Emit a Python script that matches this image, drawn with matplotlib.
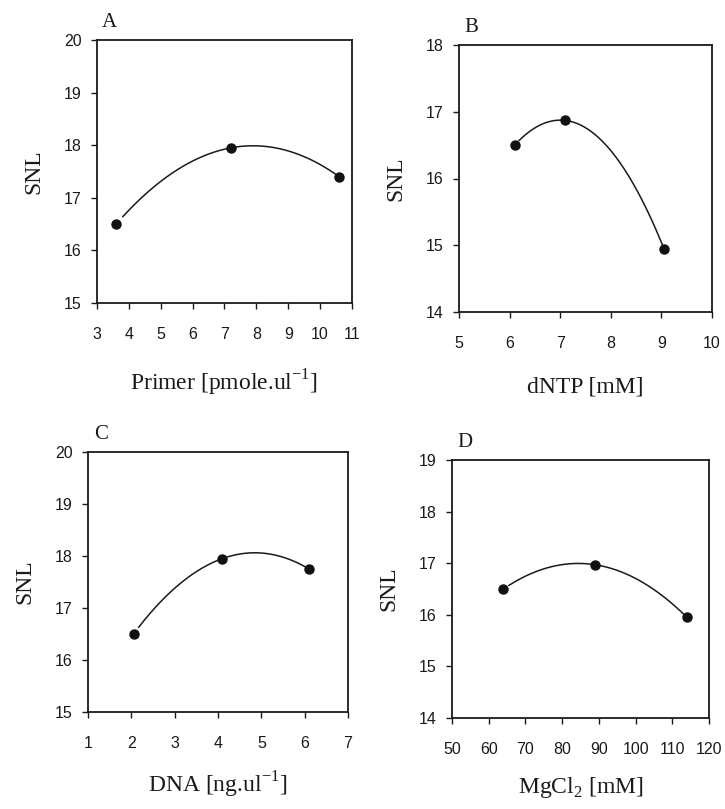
import numpy as np
import matplotlib
matplotlib.use("Agg")
import matplotlib.pyplot as plt

# Data
panel_labels = ["A", "B", "C", "D"]
x_labels = ["Primer [pmole.ul$^{\\mathregular{-1}}$]", "dNTP [mM]",
            "DNA [ng.ul$^{\\mathregular{-1}}$]", "MgCl$_{\\mathregular{2}}$ [mM]"]
y_labels = ["SNL", "SNL", "SNL", "SNL"]

xA = [3.6, 7.2, 10.6]
yA = [16.5, 17.95, 17.4]
xB = [6.1, 7.1, 9.05]
yB = [16.5, 16.87, 14.95]
xC = [2.05, 4.1, 6.1]
yC = [16.5, 17.95, 17.75]
xD = [64, 89, 114]
yD = [16.5, 16.97, 15.95]

xticksA = [3, 4, 5, 6, 7, 8, 9, 10, 11]
yticksA = [15, 16, 17, 18, 19, 20]
xticksB = [5, 6, 7, 8, 9, 10]
yticksB = [14, 15, 16, 17, 18]
xticksC = [1, 2, 3, 4, 5, 6, 7]
yticksC = [15, 16, 17, 18, 19, 20]
xticksD = [50, 60, 70, 80, 90, 100, 110, 120]
yticksD = [14, 15, 16, 17, 18, 19]

datasets = [(xA, yA, xticksA, yticksA), (xB, yB, xticksB, yticksB),
            (xC, yC, xticksC, yticksC), (xD, yD, xticksD, yticksD)]

# axes rectangles in pixels: left, right, top, bottom
W, H = 725, 809
rects = [(97, 352, 40, 303), (459, 712, 45, 312),
         (88, 348, 452, 712), (452, 709, 460, 718)]
xlabel_pads = [19, 19, 14, 13]

fig = plt.figure(figsize=(W / 100, H / 100), dpi=100)
serif = "Liberation Serif"
sans = "Liberation Sans"
ink = "#1a1a1a"

for i, ((xs, ys, xt, yt), (l, r, t, b)) in enumerate(zip(datasets, rects)):
    ax = fig.add_axes([l / W, 1 - b / H, (r - l) / W, (b - t) / H])
    coef = np.polyfit(xs, ys, 2)
    span = xs[-1] - xs[0]
    xx = np.linspace(xs[0] + 0.03 * span, xs[-1], 200)
    ax.plot(xx, np.polyval(coef, xx), color=ink, lw=1.1)
    ax.plot(xs, ys, "o", color="#111111", ms=6.5, zorder=3)
    ax.set_xlim(xt[0], xt[-1])
    ax.set_ylim(yt[0], yt[-1])
    ax.set_xticks(xt)
    ax.set_yticks(yt)
    ax.tick_params(direction="out", length=4, width=1, labelsize=11.5,
                   colors=ink)
    ax.tick_params(axis="x", pad=13)
    ax.tick_params(axis="y", pad=7)
    for lab in ax.get_xticklabels() + ax.get_yticklabels():
        lab.set_fontfamily(sans)
    for sp in ax.spines.values():
        sp.set_linewidth(1.3)
        sp.set_color(ink)
    ax.set_xlabel(x_labels[i], fontfamily=serif, fontsize=17,
                  labelpad=xlabel_pads[i], color=ink)
    ax.set_ylabel(y_labels[i], fontfamily=serif, fontsize=17, labelpad=14,
                  color=ink)
    ax.text(0.05, 1.03, panel_labels[i], transform=ax.transAxes,
            fontfamily=serif, fontsize=15, va="bottom", ha="center",
            color=ink)

fig.savefig("out.png", dpi=100, facecolor="white")
